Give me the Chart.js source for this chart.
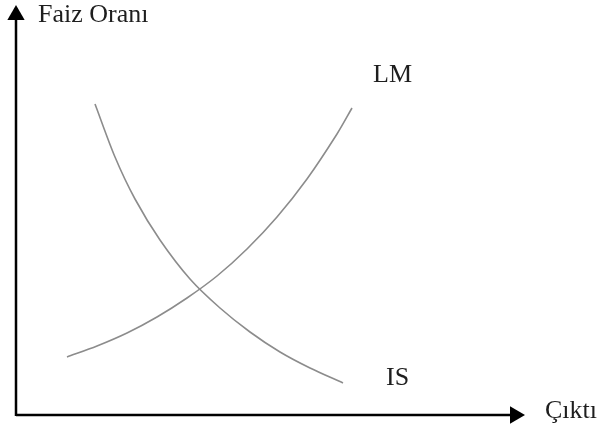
<!DOCTYPE html>
<html>
<head>
<meta charset="utf-8">
<script src="https://cdn.jsdelivr.net/npm/chart.js@4/dist/chart.umd.min.js"></script>
<style>
  body { margin: 0; background: #fff; }
  #wrap { width: 601px; height: 430px; position: relative; }
</style>
</head>
<body>
<div id="wrap"><canvas id="grafik"></canvas></div>
<script>
// IS ve LM egrileri (Cikti, Faiz Orani)
const isCikti = [79, 99, 119, 144, 174, 204, 234, 264, 294, 327];
const isFaiz  = [311, 258, 216, 175, 136, 107, 83, 63, 47, 32];
const lmCikti = [51, 81, 111, 141, 171, 201, 231, 261, 291, 321, 336];
const lmFaiz  = [58, 69, 82, 98, 117, 139, 166, 198, 236, 281, 307];

// eksenler
const yEkseniX = [0, 0];
const yEkseniY = [-1, 400];
const xEkseniX = [0, 499];
const xEkseniY = [0, 0];

const etiketler = [
  { metin: 'Faiz Oranı', x: 38, y: 22 },
  { metin: 'LM', x: 373, y: 82 },
  { metin: 'IS', x: 386, y: 385 },
  { metin: 'Çıktı', x: 545, y: 418 }
];

const noktalar = (xs, ys) => xs.map((x, i) => ({ x: x, y: ys[i] }));

const etiketEklentisi = {
  id: 'etiketler',
  afterDraw(chart) {
    const ctx = chart.ctx;
    ctx.save();
    ctx.font = '26px "Liberation Serif", "Times New Roman", serif';
    ctx.fillStyle = '#1e1e1e';
    ctx.textBaseline = 'alphabetic';
    etiketler.forEach(e => ctx.fillText(e.metin, e.x, e.y));
    ctx.restore();
  }
};

const egri = (veri) => ({
  data: veri,
  borderColor: '#8c8c8c',
  borderWidth: 1.6,
  pointRadius: 0,
  showLine: true,
  fill: false,
  tension: 0.3
});

const eksen = (veri, donme) => ({
  data: veri,
  borderColor: '#000',
  borderWidth: 2.5,
  showLine: true,
  fill: false,
  tension: 0,
  pointRadius: [0, 10],
  pointStyle: 'triangle',
  pointRotation: donme,
  pointBackgroundColor: '#000',
  pointBorderColor: '#000',
  pointBorderWidth: 0
});

const ctx = document.getElementById('grafik').getContext('2d');
new Chart(ctx, {
  type: 'scatter',
  data: {
    datasets: [
      egri(noktalar(isCikti, isFaiz)),
      egri(noktalar(lmCikti, lmFaiz)),
      eksen(noktalar(yEkseniX, yEkseniY), 0),
      eksen(noktalar(xEkseniX, xEkseniY), 90)
    ]
  },
  options: {
    responsive: true,
    maintainAspectRatio: false,
    animation: false,
    layout: { padding: 0, autoPadding: false },
    plugins: { legend: { display: false }, tooltip: { enabled: false } },
    scales: {
      x: { type: 'linear', min: -16, max: 585, display: false },
      y: { type: 'linear', min: -15, max: 415, display: false }
    }
  },
  plugins: [etiketEklentisi]
});
</script>
</body>
</html>
